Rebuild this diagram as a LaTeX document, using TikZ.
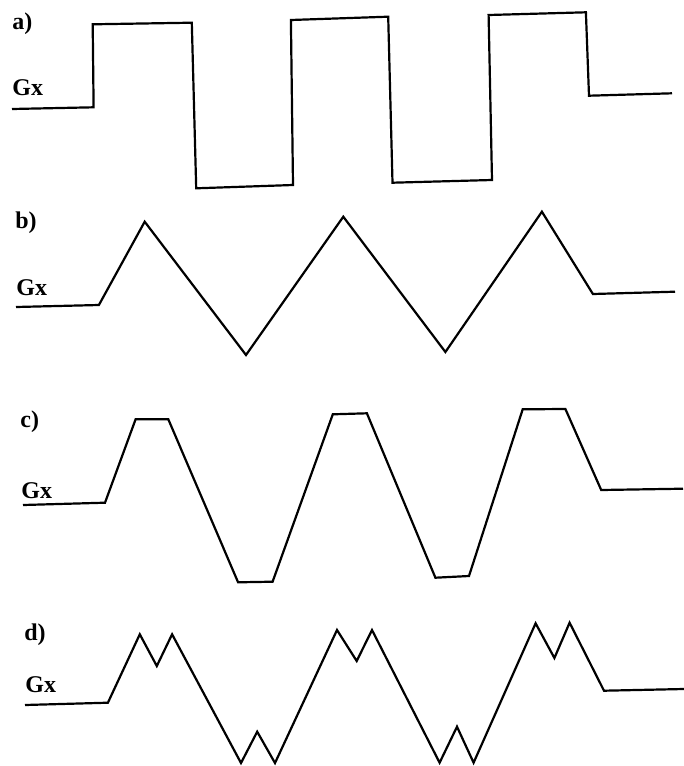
\documentclass[tikz,border=0pt]{standalone}
\usepackage{fontspec}
\setmainfont{Liberation Serif}
\usepackage{tikz}
\usetikzlibrary{positioning}

\begin{document}
\begin{tikzpicture}[
  x=0.5pt, y=-0.5pt,
  every node/.style={font=\fontsize{12}{14}\selectfont\bfseries, inner sep=0pt, anchor=base west},
  wave/.style={line width=1.1pt, line join=miter, black},
]
\useasboundingbox (0,0) rectangle (684,766);

% ---- Panel labels: letter on top, Gx at the rest level ----
\foreach \p/\lx/\ly/\gx/\gy in {a/12/29/12/95, b/15/228/16/295, c/20/427/21/498, d/24/640/25/692} {
  \node (lbl\p) at (\lx,\ly) {\p)};
  \node (gx\p) at (\gx,\gy) {Gx};
}

% ---- a) square pulses ----
\draw[wave] (12,109) -- (93.6,107.3) -- (92.7,24.3) -- (191.8,22.7)
  -- (196.2,188.3) -- (293,185) -- (290.9,20) -- (388.2,16.7)
  -- (392.5,182.7) -- (492,180) -- (488.6,15) -- (585.9,12.3)
  -- (589,95.7) -- (672,93.3);

% ---- b) triangles ----
\draw[wave] (16,307) -- (98.9,305) -- (144.7,221.7) -- (246,355)
  -- (343.3,216.7) -- (445.4,352) -- (541.9,211.7)
  -- (592.9,294) -- (675,291.7);

% ---- c) trapezoids ----
\draw[wave] (23,505) -- (105,502.7) -- (135.6,419.3) -- (168.3,419.3)
  -- (238.1,582.3) -- (272.6,581.7) -- (332.8,414.3) -- (366.9,413.3)
  -- (435.4,577.7) -- (469,576) -- (522.7,409.3) -- (565.4,409)
  -- (601.2,490) -- (683,488.7);

% ---- d) split peaks ----
\draw[wave] (25,705) -- (107.9,702.7) -- (139.8,634.3) -- (156.8,666)
  -- (172.1,634.3) -- (241,763) -- (257.2,731.7) -- (275,763)
  -- (337,630) -- (356.7,661) -- (372,630) -- (439.6,762.7)
  -- (457,726.7) -- (473.6,762.7) -- (535.6,623.3) -- (554.4,658)
  -- (569.6,622.7) -- (604,690.7) -- (684,689);

\end{tikzpicture}
\end{document}
